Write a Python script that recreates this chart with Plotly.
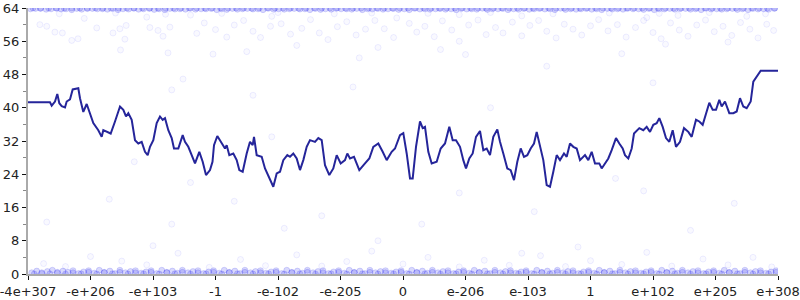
import plotly.graph_objects as go

# ---------------- data ----------------
X_TICKS = [0, 1, 2, 3, 4, 5, 6, 7, 8, 9, 10, 11, 12]
X_LABELS = ["-4e+307", "-e+206", "-e+103", "-1", "-e-102", "-e-205", "0",
            "e-206", "e-103", "1", "e+102", "e+205", "e+308"]
Y_TICKS = [0, 8, 16, 24, 32, 40, 48, 56, 64]

line_x = [0, 0.352, 0.379, 0.432, 0.469, 0.501, 0.539, 0.592, 0.619, 0.672, 0.715, 0.805, 0.832,
          0.885, 0.939, 0.992, 1.045, 1.125, 1.179, 1.205, 1.269, 1.323, 1.392, 1.472, 1.525,
          1.568, 1.605, 1.659, 1.712, 1.765, 1.819, 1.872, 1.915, 1.952, 2.005, 2.059, 2.112,
          2.155, 2.192, 2.245, 2.299, 2.336, 2.405, 2.475, 2.512, 2.565, 2.619, 2.672, 2.741,
          2.795, 2.848, 2.912, 2.952, 2.976, 3.029, 3.099, 3.152, 3.179, 3.221, 3.285, 3.339,
          3.381, 3.435, 3.499, 3.552, 3.595, 3.616, 3.659, 3.739, 3.792, 3.861, 3.925, 3.979,
          4.032, 4.085, 4.149, 4.192, 4.245, 4.299, 4.352, 4.405, 4.459, 4.512, 4.592, 4.645,
          4.699, 4.752, 4.821, 4.885, 4.939, 5.003, 5.072, 5.109, 5.152, 5.216, 5.301, 5.392,
          5.461, 5.525, 5.605, 5.675, 5.739, 5.819, 5.872, 5.952, 6.005, 6.059, 6.112, 6.155,
          6.208, 6.272, 6.315, 6.352, 6.405, 6.459, 6.539, 6.603, 6.672, 6.741, 6.795, 6.848,
          6.912, 6.965, 7.008, 7.061, 7.115, 7.168, 7.232, 7.285, 7.339, 7.392, 7.445, 7.509,
          7.552, 7.605, 7.669, 7.723, 7.776, 7.829, 7.883, 7.936, 7.989, 8.043, 8.096, 8.139,
          8.192, 8.245, 8.299, 8.352, 8.405, 8.459, 8.512, 8.576, 8.619, 8.672, 8.725, 8.779,
          8.832, 8.912, 8.965, 9.019, 9.072, 9.141, 9.179, 9.232, 9.285, 9.339, 9.408, 9.461,
          9.515, 9.552, 9.605, 9.659, 9.696, 9.781, 9.845, 9.899, 9.952, 10.005, 10.059, 10.101,
          10.155, 10.208, 10.261, 10.315, 10.368, 10.432, 10.496, 10.565, 10.619, 10.688, 10.741,
          10.795, 10.848, 10.901, 10.955, 11.008, 11.061, 11.099, 11.152, 11.221, 11.285, 11.339,
          11.392, 11.445, 11.499, 11.563, 11.605, 11.659, 11.723, 12]
line_y = [41.3, 41.3, 40.5, 41.5, 43.3, 41.1, 40.4, 40.1, 41.5, 42.0, 44.4, 44.7, 42.3,
          39.0, 40.9, 38.7, 36.3, 34.6, 33.0, 34.6, 34.2, 33.8, 36.7, 40.3, 39.5,
          37.9, 38.7, 37.1, 32.2, 31.4, 31.8, 29.4, 28.6, 30.6, 32.2, 36.3, 37.9,
          37.1, 37.5, 34.6, 32.7, 30.2, 30.2, 33.4, 31.8, 30.6, 28.6, 26.6, 29.4,
          27.0, 23.8, 25.0, 27.0, 31.0, 33.2, 31.4, 30.2, 31.0, 28.6, 29.0, 27.4,
          25.0, 24.6, 29.0, 31.8, 31.0, 33.0, 28.6, 28.2, 25.4, 23.0, 21.0, 24.2,
          24.6, 27.4, 28.6, 28.2, 29.0, 27.8, 25.0, 27.4, 30.6, 32.2, 31.8, 32.7,
          32.2, 26.2, 23.8, 25.4, 28.6, 26.6, 27.4, 29.0, 27.8, 28.2, 25.0, 26.6,
          27.8, 30.6, 31.4, 29.4, 27.4, 29.4, 30.2, 33.4, 33.9, 29.0, 23.0, 23.0,
          30.6, 36.7, 35.1, 35.4, 29.4, 26.6, 27.0, 30.2, 31.4, 35.4, 32.2, 32.2,
          30.6, 27.4, 25.4, 27.8, 29.0, 33.0, 34.4, 29.8, 30.2, 28.6, 33.0, 34.8,
          31.8, 29.0, 25.4, 25.0, 22.6, 27.0, 30.2, 28.2, 28.6, 30.2, 31.4, 34.2,
          31.0, 27.4, 21.4, 21.0, 24.6, 28.6, 27.4, 29.0, 28.2, 31.4, 30.6, 30.2,
          27.4, 28.6, 27.4, 29.4, 26.6, 26.6, 25.4, 26.6, 27.8, 29.8, 32.7, 31.4,
          30.2, 28.6, 27.8, 30.2, 33.8, 35.1, 34.6, 35.4, 34.2, 35.9, 36.3, 37.5,
          35.4, 32.7, 31.8, 34.6, 30.6, 31.8, 35.1, 34.2, 33.0, 37.1, 36.7,
          35.9, 38.3, 41.2, 39.5, 39.5, 41.9, 40.3, 41.5, 38.7, 38.7, 39.1,
          42.3, 40.3, 39.9, 41.5, 46.3, 47.5, 48.9, 48.9]

# dense band of samples near the top (x, y)
top_band = [
    (0.04, 63.8), (0.12, 63.9), (0.2, 63.9), (0.29, 63.7), (0.37, 63.8), (0.46, 63.95), (0.53, 63.75),
    (0.61, 63.8), (0.7, 63.6), (0.78, 63.9), (0.86, 63.7), (0.95, 63.85), (1.03, 63.9), (1.11, 63.8),
    (1.19, 63.8), (1.27, 63.7), (1.36, 63.9), (1.44, 63.6), (1.52, 63.8), (1.61, 63.75), (1.69, 63.95),
    (1.77, 63.7), (1.85, 63.8), (1.94, 63.9), (2.02, 63.65), (2.1, 63.8), (2.19, 63.6), (2.27, 63.9),
    (2.35, 63.75), (2.43, 63.8), (2.52, 63.7), (2.6, 63.95), (2.68, 63.7), (2.77, 63.8), (2.85, 63.8),
    (2.93, 63.9), (3.02, 63.6), (3.1, 63.8), (3.18, 63.65), (3.27, 63.9), (3.35, 63.7), (3.43, 63.8),
    (3.51, 63.9), (3.6, 63.75), (3.68, 63.8), (3.76, 63.6), (3.85, 63.95), (3.93, 63.7), (4.01, 63.8),
    (4.1, 63.7), (4.18, 63.8), (4.26, 63.9), (4.35, 63.75), (4.43, 63.8), (4.51, 63.6), (4.6, 63.9),
    (4.68, 63.65), (4.76, 63.8), (4.85, 63.7), (4.93, 63.95), (5.01, 63.8), (5.1, 63.8), (5.18, 63.7),
    (5.26, 63.9), (5.35, 63.6), (5.43, 63.8), (5.51, 63.75), (5.6, 63.9), (5.68, 63.7), (5.76, 63.8),
    (5.85, 63.9), (5.93, 63.65), (6.02, 63.8), (6.1, 63.6), (6.18, 63.95), (6.27, 63.75), (6.35, 63.8),
    (6.43, 63.7), (6.52, 63.8), (6.6, 63.9), (6.68, 63.7), (6.77, 63.8), (6.85, 63.6), (6.93, 63.9),
    (7.02, 63.75), (7.1, 63.8), (7.18, 63.7), (7.27, 63.95), (7.35, 63.65), (7.43, 63.8), (7.52, 63.8),
    (7.6, 63.9), (7.68, 63.6), (7.77, 63.8), (7.85, 63.7), (7.93, 63.9), (8.02, 63.7), (8.1, 63.8),
    (8.18, 63.9), (8.27, 63.75), (8.35, 63.8), (8.43, 63.6), (8.52, 63.95), (8.6, 63.65), (8.68, 63.8),
    (8.77, 63.7), (8.85, 63.8), (8.93, 63.9), (9.02, 63.7), (9.1, 63.8), (9.18, 63.6), (9.27, 63.9),
    (9.35, 63.75), (9.43, 63.8), (9.52, 63.7), (9.6, 63.95), (9.68, 63.8), (9.77, 63.8), (9.85, 63.65),
    (9.93, 63.9), (10.02, 63.6), (10.1, 63.8), (10.18, 63.75), (10.27, 63.9), (10.35, 63.7), (10.43, 63.8),
    (10.52, 63.9), (10.6, 63.7), (10.68, 63.8), (10.77, 63.6), (10.85, 63.95), (10.93, 63.75), (11.02, 63.8),
    (11.1, 63.7), (11.18, 63.8), (11.27, 63.9), (11.35, 63.65), (11.43, 63.8), (11.52, 63.6), (11.6, 63.9),
    (11.68, 63.75), (11.77, 63.8), (11.85, 63.7), (11.94, 63.9),
    (0.08, 64.0), (0.33, 64.0), (0.58, 63.95), (0.83, 64.0), (1.08, 64.0), (1.33, 63.95), (1.58, 64.0),
    (1.83, 64.0), (2.08, 63.95), (2.33, 64.0), (2.58, 64.0), (2.83, 63.95), (3.08, 64.0), (3.33, 64.0),
    (3.58, 63.95), (3.83, 64.0), (4.08, 64.0), (4.33, 63.95), (4.58, 64.0), (4.83, 64.0), (5.08, 63.95),
    (5.33, 64.0), (5.58, 64.0), (5.83, 63.95), (6.08, 64.0), (6.33, 64.0), (6.58, 63.95), (6.83, 64.0),
    (7.08, 64.0), (7.33, 63.95), (7.58, 64.0), (7.83, 64.0), (8.08, 63.95), (8.33, 64.0), (8.58, 64.0),
    (8.83, 63.95), (9.08, 64.0), (9.33, 64.0), (9.58, 63.95), (9.83, 64.0), (10.08, 64.0), (10.33, 63.95),
    (10.58, 64.0), (10.83, 64.0), (11.08, 63.95), (11.33, 64.0), (11.58, 64.0), (11.83, 63.95),
    (0.2, 64.0), (0.45, 64.0), (0.7, 64.0), (0.95, 64.0), (1.2, 64.0), (1.45, 64.0), (1.7, 64.0),
    (1.95, 64.0), (2.2, 64.0), (2.45, 64.0), (2.7, 64.0), (2.95, 64.0), (3.2, 64.0), (3.45, 64.0),
    (3.7, 64.0), (3.95, 64.0), (4.2, 64.0), (4.45, 64.0), (4.7, 64.0), (4.95, 64.0), (5.2, 64.0),
    (5.45, 64.0), (5.7, 64.0), (5.95, 64.0), (6.2, 64.0), (6.45, 64.0), (6.7, 64.0), (6.95, 64.0),
    (7.2, 64.0), (7.45, 64.0), (7.7, 64.0), (7.95, 64.0), (8.2, 64.0), (8.45, 64.0), (8.7, 64.0),
    (8.95, 64.0), (9.2, 64.0), (9.45, 64.0), (9.7, 64.0), (9.95, 64.0), (10.2, 64.0), (10.45, 64.0),
    (10.7, 64.0), (10.95, 64.0), (11.2, 64.0), (11.45, 64.0), (11.7, 64.0), (11.95, 64.0),
]

# scattered samples below the top band (x, y)
upper_scatter = [
    (0.19, 60.0), (0.3, 59.6), (0.43, 58.2), (0.55, 58.0), (0.7, 56.2), (0.8, 56.6), (1.1, 59.2),
    (1.36, 58.0), (1.47, 59.0), (1.55, 56.5), (1.57, 59.8), (1.95, 59.3), (2.08, 58.6), (2.16, 57.2),
    (2.27, 59.4), (1.48, 53.9), (2.24, 53.2), (2.48, 46.9), (2.96, 52.9), (2.3, 44.3), (2.7, 57.9),
    (2.82, 60.4), (3.0, 58.8), (3.18, 57.0), (3.3, 59.9), (3.45, 61.0), (3.6, 58.4), (3.72, 56.9),
    (3.88, 59.6), (3.5, 53.5), (4.05, 60.2), (4.2, 57.7), (4.38, 59.1), (4.52, 61.2), (4.66, 58.0),
    (4.8, 56.4), (4.95, 59.5), (5.1, 60.7), (5.25, 57.5), (5.4, 58.9), (5.55, 61.0), (5.7, 59.0),
    (5.85, 56.9), (5.3, 52.0), (5.6, 54.5), (6.1, 60.3), (6.22, 58.2), (6.35, 59.6), (6.5, 57.1),
    (6.63, 60.9), (6.78, 58.7), (6.9, 56.0), (7.05, 59.9), (7.2, 61.1), (7.33, 57.6), (7.48, 59.3),
    (7.6, 58.0), (7.75, 60.6), (7.9, 57.3), (8.03, 59.8), (8.17, 61.0), (8.3, 58.4), (8.45, 56.8),
    (8.58, 60.1), (8.72, 58.9), (8.86, 57.5), (9.0, 59.7), (9.13, 61.2), (9.28, 58.5), (9.43, 60.0),
    (9.57, 57.0), (9.72, 59.3), (9.85, 61.0), (10.0, 58.1), (10.13, 56.6), (10.28, 60.4), (10.42, 58.7),
    (10.56, 57.2), (10.7, 59.9), (10.84, 61.1), (10.98, 58.3), (11.12, 59.6), (11.26, 57.4), (11.4, 60.5),
    (11.55, 58.9), (11.68, 56.8), (11.82, 60.1), (11.93, 58.6), (9.5, 53.0), (8.3, 50.0), (10.2, 55.3),
    (7.0, 52.8), (4.3, 55.0), (11.2, 55.8), (6.6, 54.0), (0.9, 61.5), (1.9, 61.8), (3.9, 62.0),
    (5.9, 61.6), (7.9, 62.1), (9.9, 61.7), (11.5, 62.0), (2.6, 62.3), (6.9, 62.4), (10.4, 62.2),
    (0.5, 62.6), (1.4, 62.8), (2.2, 62.5), (3.1, 62.7), (4.0, 62.9), (4.9, 62.6), (5.5, 62.8),
    (6.4, 62.7), (7.4, 62.9), (8.4, 62.6), (9.3, 62.8), (10.1, 62.7), (10.9, 62.9), (11.8, 62.6),
]

# sparse samples in the middle of the range (x, y)
middle_scatter = [
    (0.3, 12.5), (1.3, 18.0), (2.0, 6.8), (2.6, 22.0), (3.3, 17.5), (3.6, 43.0), (4.1, 11.0),
    (4.7, 14.0), (5.6, 8.0), (6.3, 12.0), (6.9, 19.5), (7.4, 40.0), (8.1, 15.0), (8.8, 6.5),
    (9.4, 23.0), (9.85, 20.0), (10.6, 10.5), (11.3, 17.0), (1.7, 27.0), (5.2, 45.0), (3.9, 33.0),
    (10.0, 46.0), (2.3, 12.0), (7.9, 5.0),
]

# dense band of samples near zero (x, y)
bottom_band = [
    (0.06, 0.3), (0.14, 0.7), (0.22, 0.1), (0.31, 0.6), (0.39, 0.9), (0.47, 0.2), (0.56, 0.7),
    (0.64, 0.4), (0.72, 0.8), (0.81, 0.1), (0.89, 0.5), (0.97, 0.8), (1.06, 0.2), (1.14, 0.9),
    (1.22, 0.4), (1.31, 0.7), (1.39, 0.1), (1.47, 0.9), (1.56, 0.3), (1.64, 0.6), (1.72, 0.8),
    (1.81, 0.2), (1.89, 0.5), (1.97, 0.8), (2.06, 0.1), (2.14, 0.9), (2.22, 0.4), (2.31, 0.7),
    (2.39, 0.2), (2.47, 0.9), (2.56, 0.3), (2.64, 0.6), (2.72, 0.8), (2.81, 0.1), (2.89, 0.5),
    (2.97, 0.8), (3.06, 0.2), (3.14, 0.9), (3.22, 0.4), (3.31, 0.7), (3.39, 0.1), (3.47, 0.9),
    (3.56, 0.3), (3.64, 0.6), (3.72, 0.8), (3.81, 0.2), (3.89, 0.5), (3.97, 0.8), (4.06, 0.1),
    (4.14, 0.9), (4.22, 0.4), (4.31, 0.7), (4.39, 0.2), (4.47, 0.9), (4.56, 0.3), (4.64, 0.6),
    (4.72, 0.8), (4.81, 0.1), (4.89, 0.5), (4.97, 0.8), (5.06, 0.2), (5.14, 0.9), (5.22, 0.4),
    (5.31, 0.7), (5.39, 0.1), (5.47, 0.9), (5.56, 0.3), (5.64, 0.6), (5.72, 0.8), (5.81, 0.2),
    (5.89, 0.5), (5.97, 0.8), (6.06, 0.1), (6.14, 0.9), (6.22, 0.4), (6.31, 0.7), (6.39, 0.2),
    (6.47, 0.9), (6.56, 0.3), (6.64, 0.6), (6.72, 0.8), (6.81, 0.1), (6.89, 0.5), (6.97, 0.8),
    (7.06, 0.2), (7.14, 0.9), (7.22, 0.4), (7.31, 0.7), (7.39, 0.1), (7.47, 0.9), (7.56, 0.3),
    (7.64, 0.6), (7.72, 0.8), (7.81, 0.2), (7.89, 0.5), (7.97, 0.8), (8.06, 0.1), (8.14, 0.9),
    (8.22, 0.4), (8.31, 0.7), (8.39, 0.2), (8.47, 0.9), (8.56, 0.3), (8.64, 0.6), (8.72, 0.8),
    (8.81, 0.1), (8.89, 0.5), (8.97, 0.8), (9.06, 0.2), (9.14, 0.9), (9.22, 0.4), (9.31, 0.7),
    (9.39, 0.1), (9.47, 0.9), (9.56, 0.3), (9.64, 0.6), (9.72, 0.8), (9.81, 0.2), (9.89, 0.5),
    (9.97, 0.8), (10.06, 0.1), (10.14, 0.9), (10.22, 0.4), (10.31, 0.7), (10.39, 0.2), (10.47, 0.9),
    (10.56, 0.3), (10.64, 0.6), (10.72, 0.8), (10.81, 0.1), (10.89, 0.5), (10.97, 0.8), (11.06, 0.2),
    (11.14, 0.9), (11.22, 0.4), (11.31, 0.7), (11.39, 0.1), (11.47, 0.9), (11.56, 0.3), (11.64, 0.6),
    (11.72, 0.8), (11.81, 0.2), (11.89, 0.5), (11.97, 0.8),
    (0.1, 0.0), (0.35, 0.05), (0.6, 0.0), (0.85, 0.05), (1.1, 0.0), (1.35, 0.05), (1.6, 0.0),
    (1.85, 0.05), (2.1, 0.0), (2.35, 0.05), (2.6, 0.0), (2.85, 0.05), (3.1, 0.0), (3.35, 0.05),
    (3.6, 0.0), (3.85, 0.05), (4.1, 0.0), (4.35, 0.05), (4.6, 0.0), (4.85, 0.05), (5.1, 0.0),
    (5.35, 0.05), (5.6, 0.0), (5.85, 0.05), (6.1, 0.0), (6.35, 0.05), (6.6, 0.0), (6.85, 0.05),
    (7.1, 0.0), (7.35, 0.05), (7.6, 0.0), (7.85, 0.05), (8.1, 0.0), (8.35, 0.05), (8.6, 0.0),
    (8.85, 0.05), (9.1, 0.0), (9.35, 0.05), (9.6, 0.0), (9.85, 0.05), (10.1, 0.0), (10.35, 0.05),
    (10.6, 0.0), (10.85, 0.05), (11.1, 0.0), (11.35, 0.05), (11.6, 0.0), (11.85, 0.05),
    (0.22, 0.3), (0.47, 0.4), (0.72, 0.3), (0.97, 0.4), (1.22, 0.3), (1.47, 0.4), (1.72, 0.3),
    (1.97, 0.4), (2.22, 0.3), (2.47, 0.4), (2.72, 0.3), (2.97, 0.4), (3.22, 0.3), (3.47, 0.4),
    (3.72, 0.3), (3.97, 0.4), (4.22, 0.3), (4.47, 0.4), (4.72, 0.3), (4.97, 0.4), (5.22, 0.3),
    (5.47, 0.4), (5.72, 0.3), (5.97, 0.4), (6.22, 0.3), (6.47, 0.4), (6.72, 0.3), (6.97, 0.4),
    (7.22, 0.3), (7.47, 0.4), (7.72, 0.3), (7.97, 0.4), (8.22, 0.3), (8.47, 0.4), (8.72, 0.3),
    (8.97, 0.4), (9.22, 0.3), (9.47, 0.4), (9.72, 0.3), (9.97, 0.4), (10.22, 0.3), (10.47, 0.4),
    (10.72, 0.3), (10.97, 0.4), (11.22, 0.3), (11.47, 0.4), (11.72, 0.3), (11.97, 0.4),
]

# scattered samples just above zero (x, y)
lower_scatter = [
    (0.25, 2.5), (0.6, 1.8), (1.0, 4.2), (1.5, 3.1), (1.9, 2.2), (2.4, 5.0), (2.9, 1.6),
    (3.4, 3.5), (3.8, 2.0), (4.3, 4.6), (4.7, 1.9), (5.1, 3.0), (5.5, 5.5), (6.0, 2.4),
    (6.4, 4.0), (6.9, 1.7), (7.3, 3.3), (7.7, 2.1), (8.2, 4.4), (8.6, 1.8), (9.0, 3.2),
    (9.5, 2.3), (9.9, 5.2), (10.3, 1.9), (10.8, 3.6), (11.2, 2.2), (11.6, 4.0), (11.9, 1.7),
]

# ---------------- figure ----------------
FONT = "DejaVu Sans"
FAINT = dict(size=6, color="rgba(0,0,255,0.025)", line=dict(color="rgba(40,40,255,0.08)", width=1))
BAND = dict(size=6, color="rgba(30,30,235,0.17)", line=dict(color="rgba(30,30,235,0.15)", width=1))

fig = go.Figure()
for pts, style in ((upper_scatter, FAINT), (middle_scatter, FAINT), (lower_scatter, FAINT),
                   (top_band, BAND), (bottom_band, BAND)):
    fig.add_trace(go.Scatter(
        x=[p[0] for p in pts], y=[p[1] for p in pts], mode="markers",
        marker=style, showlegend=False, hoverinfo="skip"))

fig.add_trace(go.Scatter(x=line_x, y=line_y, mode="lines",
                         line=dict(color="#25259a", width=2), showlegend=False))

AX_LINE = "#aaaaaa"
TICK_C = "#111111"
MINOR_C = "#888888"

common_y = dict(range=[0, 64], tickvals=Y_TICKS, showgrid=False, zeroline=False,
                ticklen=4, tickwidth=1, tickcolor=TICK_C, automargin=False,
                ticklabeloverflow="allow",
                minor=dict(dtick=4, tick0=0, ticklen=3, tickcolor=MINOR_C, tickwidth=1))

fig.update_layout(
    width=800, height=300,
    margin=dict(l=28, r=22, t=8, b=26),
    paper_bgcolor="white", plot_bgcolor="white",
    font=dict(family=FONT, size=13, color="#222222"),
    xaxis=dict(range=[0, 12], tickvals=X_TICKS, ticktext=X_LABELS, showgrid=False,
               zeroline=False, ticks="outside", ticklen=4, tickcolor=TICK_C, tickwidth=1,
               showline=True, linecolor=AX_LINE, linewidth=2, automargin=False,
               ticklabeloverflow="allow"),
    xaxis2=dict(range=[0, 12], overlaying="x", anchor="y", side="bottom", tickvals=X_TICKS,
                showticklabels=False, showgrid=False, zeroline=False, ticks="inside",
                ticklen=4, tickcolor=TICK_C, tickwidth=1, showline=False, automargin=False),
    yaxis=dict(**common_y, ticks="outside", showline=True, linecolor=AX_LINE, linewidth=2,
               minor_ticks="outside"),
    yaxis2=dict(**common_y, overlaying="y", anchor="x", side="left", ticks="inside",
                showticklabels=False, showline=False, minor_ticks="inside"),
    yaxis3=dict(**common_y, overlaying="y", anchor="x", side="right", ticks="outside",
                showticklabels=False, showline=True, linecolor=AX_LINE, linewidth=2,
                minor_ticks="outside"),
    yaxis4=dict(**common_y, overlaying="y", anchor="x", side="right", ticks="inside",
                showticklabels=False, showline=False, minor_ticks="inside"),
    yaxis5=dict(**common_y, overlaying="y", anchor="free", position=0.5, side="left",
                ticks="outside", showticklabels=False, showline=True, linecolor="#888888",
                linewidth=1, minor_ticks="outside"),
    yaxis6=dict(**common_y, overlaying="y", anchor="free", position=0.5, side="right",
                ticks="outside", showticklabels=False, showline=False, minor_ticks="outside"),
)

fig.write_html("out.html")
